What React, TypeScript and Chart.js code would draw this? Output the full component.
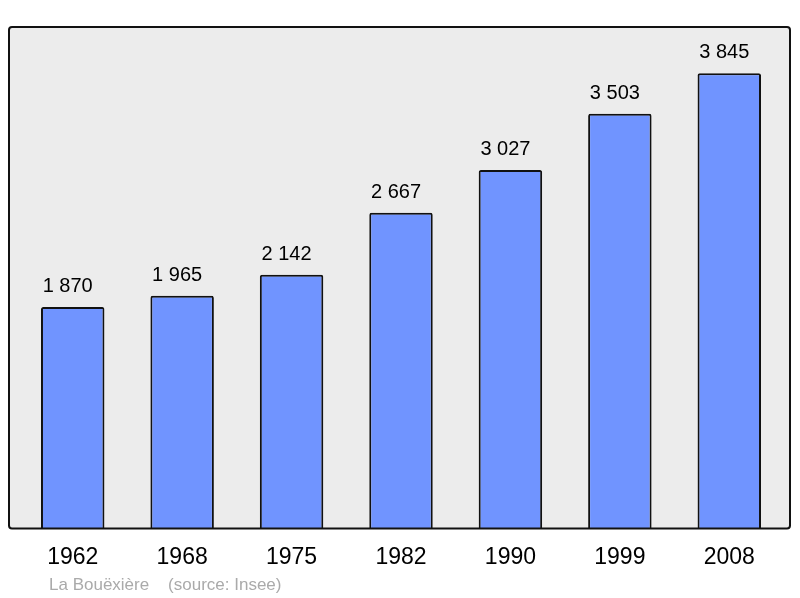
import React, { useEffect, useRef } from "react";
import { Chart, registerables } from "chart.js";

Chart.register(...registerables);

const years = ["1962", "1968", "1975", "1982", "1990", "1999", "2008"];
const population = [1870, 1965, 2142, 2667, 3027, 3503, 3845];
const footerText = "La Bouëxière    (source: Insee)";

const FONT = "'Liberation Sans', Arial, sans-serif";

function fmt(v: number): string {
  return String(v).replace(/\B(?=(\d{3})+(?!\d))/g, " ");
}

export default function App() {
  const ref = useRef<HTMLCanvasElement | null>(null);

  useEffect(() => {
    if (!ref.current) return;
    const bgPlugin = {
      id: "bgPlugin",
      beforeDatasetsDraw(chart: any) {
        const { ctx, chartArea } = chart;
        const l = chartArea.left - 9;
        const r = chartArea.right + 6;
        const t = chartArea.top;
        const b = chartArea.bottom;
        ctx.save();
        ctx.fillStyle = "#ececec";
        ctx.beginPath();
        ctx.roundRect(l, t, r - l, b - t, 3);
        ctx.fill();
        ctx.restore();
      },
      afterDatasetsDraw(chart: any) {
        const { ctx, chartArea } = chart;
        const l = chartArea.left - 9;
        const r = chartArea.right + 6;
        const t = chartArea.top;
        const b = chartArea.bottom;
        ctx.save();
        ctx.strokeStyle = "#111";
        ctx.lineWidth = 2;
        ctx.beginPath();
        ctx.roundRect(l, t, r - l, b - t, 3);
        ctx.stroke();
        // value labels
        const meta = chart.getDatasetMeta(0);
        ctx.fillStyle = "#000";
        ctx.font = `20px ${FONT}`;
        ctx.textAlign = "center";
        ctx.textBaseline = "alphabetic";
        meta.data.forEach((bar: any, i: number) => {
          ctx.fillText(fmt(population[i]), bar.x - 5, bar.y - 15);
        });
        // footer
        ctx.fillStyle = "#aaaaaa";
        ctx.font = `17px ${FONT}`;
        ctx.textAlign = "left";
        ctx.fillText(footerText, 49, 590);
        ctx.restore();
      },
    };

    const chart = new Chart(ref.current, {
      type: "bar",
      data: {
        labels: years,
        datasets: [
          {
            data: population,
            backgroundColor: "#7094ff",
            borderColor: "#111",
            borderWidth: 2,
            borderRadius: 2,
            borderSkipped: "bottom",
            barPercentage: 0.58,
            categoryPercentage: 1,
          },
        ],
      },
      options: {
        responsive: false,
        animation: false,
        layout: { padding: { left: 18, right: 16, top: 27, bottom: 12 } },
        plugins: {
          legend: { display: false },
          tooltip: { enabled: false },
        },
        scales: {
          x: {
            grid: { display: false, drawTicks: false },
            border: { display: false },
            ticks: {
              color: "#000",
              font: { family: FONT, size: 23 },
              padding: 15,
              maxRotation: 0,
            },
          },
          y: {
            display: false,
            min: 0,
            max: 4235,
          },
        },
      },
      plugins: [bgPlugin],
    });
    return () => chart.destroy();
  }, []);

  return (
    <div style={{ position: "fixed", left: 0, top: 0, width: 800, height: 598, background: "#fff" }}>
      <canvas ref={ref} width={800} height={598} />
    </div>
  );
}
